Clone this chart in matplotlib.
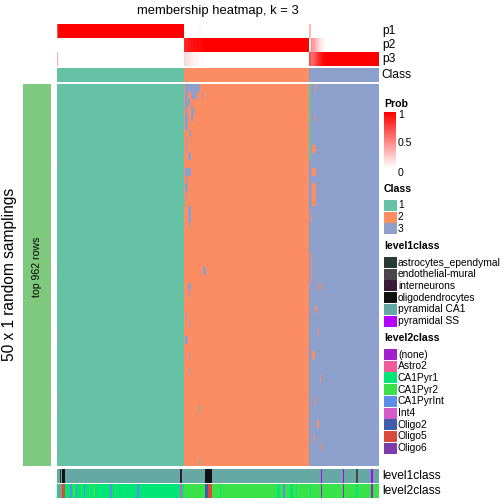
import numpy as np
import matplotlib
matplotlib.use('Agg')
from matplotlib import pyplot as plt
from matplotlib.colors import ListedColormap, LinearSegmentedColormap
from matplotlib.patches import Rectangle

plt.rcParams['font.family'] = ['Liberation Sans', 'DejaVu Sans']

# Samples per consensus class (columns, in plot order)
class_sizes = [118, 117, 65]
class_colors = ['#66C2A5', '#FC8D62', '#8DA0CB']

# Columns whose membership is not pure: (column, p1, p2, p3)
mixed_cols = [
    (0, 0.70, 0.00, 0.30), (1, 0.95, 0.00, 0.05),
    (118, 0.00, 0.82, 0.18), (119, 0.00, 0.88, 0.12), (120, 0.00, 0.84, 0.16),
    (121, 0.00, 0.90, 0.10), (122, 0.00, 0.86, 0.14), (123, 0.00, 0.92, 0.08),
    (124, 0.00, 0.89, 0.11), (125, 0.00, 0.94, 0.06), (126, 0.00, 0.91, 0.09),
    (127, 0.00, 0.95, 0.05), (128, 0.00, 0.93, 0.07), (129, 0.00, 0.96, 0.04),
    (130, 0.00, 0.95, 0.05), (131, 0.00, 0.97, 0.03), (132, 0.05, 0.93, 0.02),
    (133, 0.04, 0.95, 0.01), (134, 0.00, 0.97, 0.03), (135, 0.00, 0.98, 0.02),
    (235, 0.30, 0.00, 0.70), (236, 0.25, 0.05, 0.70),
    (237, 0.00, 0.45, 0.55), (238, 0.00, 0.40, 0.60), (239, 0.00, 0.36, 0.64),
    (240, 0.00, 0.30, 0.70), (241, 0.00, 0.26, 0.74), (242, 0.00, 0.22, 0.78),
    (243, 0.00, 0.18, 0.82), (244, 0.00, 0.14, 0.86), (245, 0.00, 0.11, 0.89),
    (246, 0.00, 0.08, 0.92), (247, 0.00, 0.06, 0.94), (248, 0.00, 0.04, 0.96),
    (249, 0.00, 0.03, 0.97), (250, 0.00, 0.02, 0.98),
]

# Class calls in the 50 random samplings that differ from the consensus:
# (sampling row, first column, last column, class)
sampling_changes = [
    (0, 119, 132, 3), (0, 240, 240, 2),
    (1, 119, 121, 3), (1, 125, 129, 3), (1, 135, 135, 3),
    (2, 119, 123, 3), (3, 119, 120, 3), (3, 125, 127, 3),
    (4, 119, 121, 3), (4, 125, 126, 3), (4, 240, 240, 2), (5, 119, 121, 3),
    (6, 123, 124, 3), (7, 120, 120, 3), (8, 120, 120, 3), (8, 238, 240, 2),
    (9, 122, 124, 3), (10, 0, 0, 3), (11, 119, 124, 3), (11, 238, 240, 2),
    (12, 120, 120, 3), (13, 119, 121, 3), (13, 238, 240, 2), (14, 120, 120, 3),
    (14, 238, 240, 2), (15, 118, 118, 1), (15, 238, 240, 2),
    (16, 122, 124, 3), (17, 122, 124, 3), (17, 237, 237, 2), (18, 123, 123, 3),
    (22, 237, 237, 2), (23, 237, 237, 2), (24, 0, 0, 3), (24, 136, 138, 3),
    (24, 237, 237, 2), (25, 237, 237, 2), (26, 122, 124, 3), (26, 243, 243, 2),
    (26, 246, 246, 2), (27, 123, 123, 3), (29, 240, 241, 2), (30, 120, 120, 3),
    (31, 123, 123, 3), (32, 0, 0, 3), (32, 243, 243, 2), (33, 0, 0, 3),
    (33, 119, 121, 3), (35, 123, 123, 3), (35, 238, 239, 2), (37, 123, 123, 3),
    (38, 245, 245, 2), (40, 0, 0, 3), (41, 0, 0, 3), (41, 240, 240, 2),
    (42, 0, 0, 3), (42, 132, 132, 1), (44, 242, 243, 2), (46, 239, 239, 2),
    (47, 246, 246, 2), (48, 0, 0, 3), (49, 132, 132, 1),
] + [(r, 235, 236, 1) for r in range(10)]
n_samplings = 50

level1_names = ['astrocytes_ependymal', 'endothelial-mural', 'interneurons',
                'oligodendrocytes', 'pyramidal CA1', 'pyramidal SS']
level1_colors = ['#283A34', '#4A464C', '#3A1838', '#111111', '#66A8A4', '#B400FF']
level1_base = 'pyramidal CA1'
level1_changes = [(3, 3, 'astrocytes_ependymal'), (5, 6, 'oligodendrocytes'),
                  (115, 115, 'interneurons'), (138, 143, 'oligodendrocytes'),
                  (246, 246, 'pyramidal SS'), (266, 266, 'pyramidal SS'),
                  (279, 279, 'endothelial-mural'), (293, 293, 'pyramidal SS')]

level2_names = ['(none)', 'Astro2', 'CA1Pyr1', 'CA1Pyr2', 'CA1PyrInt',
                'Int4', 'Oligo2', 'Oligo5', 'Oligo6']
level2_colors = ['#A020D0', '#F25C9A', '#00E676', '#3AE24A', '#5B8FE8',
                 '#D65BC8', '#3F5BAA', '#D84A3C', '#7E3CAA']
level2_base = ['CA1Pyr1', 'CA1Pyr2', 'CA1Pyr2']
level2_changes = [(2, 2, 'Int4'), (4, 4, 'Astro2'), (5, 6, 'Oligo5'),
                  (12, 13, 'CA1PyrInt'), (15, 16, 'CA1Pyr2'), (18, 18, 'CA1PyrInt'),
                  (22, 22, 'CA1Pyr2'), (25, 25, 'CA1PyrInt'), (30, 30, 'CA1Pyr2'),
                  (34, 34, 'CA1Pyr2'), (49, 50, 'CA1PyrInt'), (54, 54, 'CA1Pyr2'),
                  (75, 75, 'CA1PyrInt'), (115, 115, 'Int4'), (138, 140, 'Oligo2'),
                  (141, 143, 'Oligo5'), (152, 152, 'CA1Pyr1'), (205, 207, 'CA1Pyr1'),
                  (211, 211, 'CA1PyrInt'), (217, 219, 'CA1Pyr1'), (223, 223, 'CA1Pyr1'),
                  (236, 236, 'CA1Pyr1'), (246, 246, '(none)'), (266, 266, '(none)'),
                  (279, 279, 'CA1Pyr1'), (293, 293, '(none)')]

# ---- build matrices ----
n = sum(class_sizes)
cls = np.repeat(np.arange(1, 4), class_sizes)
prob = np.zeros((3, n))
prob[cls - 1, np.arange(n)] = 1.0
for c, a, b, d in mixed_cols:
    prob[:, c] = [a, b, d]

samp = np.tile(cls, (n_samplings, 1))
for r, c0, c1, k in sampling_changes:
    samp[r, c0:c1 + 1] = k

lv1 = np.full(n, level1_names.index(level1_base))
for c0, c1, name in level1_changes:
    lv1[c0:c1 + 1] = level1_names.index(name)
lv2 = np.array([level2_names.index(level2_base[k - 1]) for k in cls])
for c0, c1, name in level2_changes:
    lv2[c0:c1 + 1] = level2_names.index(name)

# ---- figure ----
W = H = 504
fig = plt.figure(figsize=(7, 7), dpi=72)


def px_axes(x0, y0, x1, y1):
    ax = fig.add_axes([x0 / W, 1 - y1 / H, (x1 - x0) / W, (y1 - y0) / H])
    ax.set_axis_off()
    return ax


prob_cmap = LinearSegmentedColormap.from_list('prob', ['#FFFFFF', '#FF0000'])
class_cmap = ListedColormap(class_colors)
X0, X1 = 57, 379

row_y = [(24, 37.7, 'p1'), (37.7, 51.7, 'p2'), (51.7, 65.7, 'p3')]
for i, (y0, y1, lab) in enumerate(row_y):
    ax = px_axes(X0, y0, X1, y1)
    ax.imshow(prob[i:i + 1], cmap=prob_cmap, vmin=0, vmax=1, aspect='auto',
              interpolation='nearest')
    fig.text((X1 + 3) / W, 1 - (y0 + y1) / 2 / H, lab, fontsize=12, va='center')

ax = px_axes(X0, 67.7, X1, 81.7)
ax.imshow(cls[None, :], cmap=class_cmap, vmin=1, vmax=3, aspect='auto',
          interpolation='nearest')
fig.text((X1 + 2) / W, 1 - 74.7 / H, 'Class', fontsize=12, va='center')

ax = px_axes(X0, 84, X1, 465.5)
ax.imshow(samp, cmap=class_cmap, vmin=1, vmax=3, aspect='auto',
          interpolation='nearest')

ax = px_axes(X0, 469, X1, 482.7)
ax.imshow(lv1[None, :], cmap=ListedColormap(level1_colors), vmin=0,
          vmax=len(level1_names) - 1, aspect='auto', interpolation='nearest')
fig.text((X1 + 3) / W, 1 - 476 / H, 'level1class', fontsize=12, va='center')

ax = px_axes(X0, 484, X1, 498.3)
ax.imshow(lv2[None, :], cmap=ListedColormap(level2_colors), vmin=0,
          vmax=len(level2_names) - 1, aspect='auto', interpolation='nearest')
fig.text((X1 + 3) / W, 1 - 491.5 / H, 'level2class', fontsize=12, va='center')

# left side bar
ax = px_axes(23, 84, 51, 465.5)
ax.add_patch(Rectangle((0, 0), 1, 1, color='#7FC97F'))
ax.set_xlim(0, 1)
ax.set_ylim(0, 1)
ax.text(0.5, 0.52, 'top 962 rows', rotation=90, fontsize=10.5,
        ha='center', va='center')
fig.text(10 / W, 1 - 274 / H, '50 x 1 random samplings', rotation=90,
         fontsize=15.5, ha='center', va='center')

fig.text(218 / W, 1 - 11 / H, 'membership heatmap, k = 3', fontsize=13,
         ha='center', va='center')

# ---- legends ----
leg = fig.add_axes([0, 0, 1, 1])
leg.set_xlim(0, W)
leg.set_ylim(H, 0)
leg.set_axis_off()
LX = 384

leg.text(LX, 104, 'Prob', fontsize=10.5, fontweight='bold', va='center')
cax = px_axes(LX, 112.5, LX + 11.5, 168.5)
cax.imshow(np.linspace(1, 0, 100)[:, None], cmap=prob_cmap, aspect='auto')
for v, lab in [(1, '1'), (0.5, '0.5'), (0, '0')]:
    y = 114.5 + (1 - v) * 56
    if v > 0:
        leg.plot([LX, LX + 2], [y, y], color='white', lw=0.8)
        leg.plot([LX + 9.5, LX + 11.5], [y, y], color='white', lw=0.8)
    leg.text(LX + 14, y + (2 if v == 0 else 0), lab, fontsize=10.5, va='center')


def legend_block(title, ty, names, colors):
    leg.text(LX, ty, title, fontsize=10.5, fontweight='bold', va='center')
    for j, (nm, col) in enumerate(zip(names, colors)):
        y = ty + 11 + j * 11.7
        leg.add_patch(Rectangle((LX, y), 11.5, 10, color=col))
        leg.text(LX + 14, y + 5.5, nm, fontsize=10.3, va='center')


legend_block('Class', 189, ['1', '2', '3'], class_colors)
legend_block('level1class', 246, level1_names, level1_colors)
legend_block('level2class', 338, level2_names, level2_colors)

fig.savefig('out.png', dpi=72)
